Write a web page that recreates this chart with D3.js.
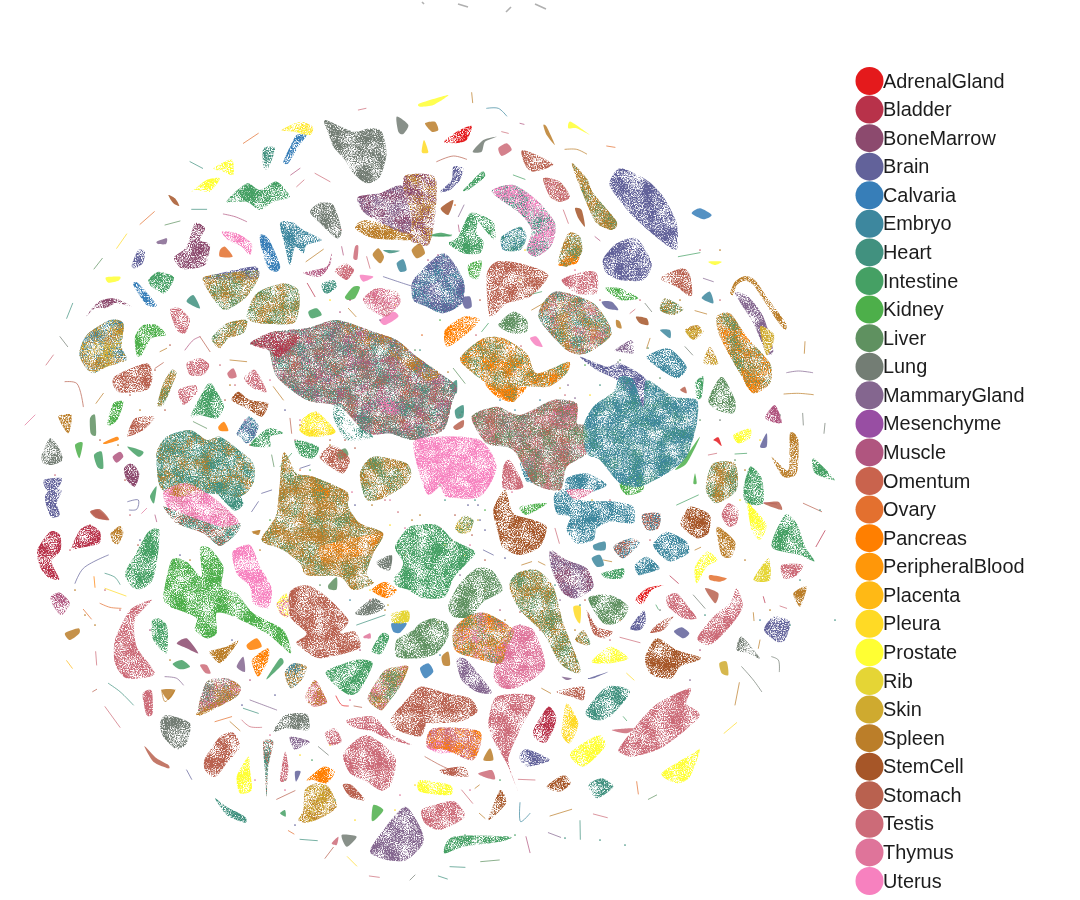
<!DOCTYPE html>
<html><head><meta charset="utf-8">
<script src="https://cdn.jsdelivr.net/npm/d3@7/dist/d3.min.js"></script>
<style>html,body{margin:0;background:#fff}svg{display:block}</style></head>
<body><svg id="c" width="1080" height="900"></svg>
<script>
const tissues=["AdrenalGland","Bladder","BoneMarrow","Brain","Calvaria","Embryo","Heart","Intestine","Kidney","Liver","Lung","MammaryGland","Mesenchyme","Muscle","Omentum","Ovary","Pancreas","PeripheralBlood","Placenta","Pleura","Prostate","Rib","Skin","Spleen","StemCell","Stomach","Testis","Thymus","Uterus"];
const palette=["#e41a1c","#b8324a","#8c4a6e","#62629a","#377eb8","#3d879e","#41917f","#45a064","#4daf4a","#5f9160","#737d74","#84668f","#984ea3","#b0557f","#c9634d","#e3702f","#ff7f00","#ff9709","#ffb915","#ffda25","#ffff33","#e5d535","#cfaa2f","#bb7e29","#a65628","#b9614f","#cc6b78","#df749a","#f781bf"];

// UMAP islands, one array per quadrant of the embedding (tissue mix, outline)
const northWest=[
["Lung",[915,90,1000,125,1050,115,1085,125,1100,190,1080,260,1040,280,1000,250,975,210,940,170,925,130]],
["Lung",[1130,80,1165,105,1150,132,1135,125]],
["Pleura|Prostate",[785,120,840,95,878,110,870,135,820,125]],
["Calvaria",[830,135,860,135,835,170,805,220,790,215,810,170]],
["Heart",[730,175,765,175,745,235,730,230]],
["Prostate",[580,235,635,208,640,255,610,245]],
["Prostate",[515,305,560,270,600,265,570,305,530,300]],
["Intestine",[620,335,680,280,720,300,770,275,810,320,760,335,720,360,680,335]],
["StemCell",[445,315,465,325,478,348,460,340]],
["Prostate",[258,562,300,560,295,572,265,578]],
["MammaryGland",[410,455,440,445,438,462,415,462]],
["BoneMarrow",[463,500,500,470,525,400,555,415,540,450,570,465,555,525,490,538,470,520]],
["Uterus",[605,425,650,430,695,460,690,495,665,470,625,450]],
["Ovary",[600,480,615,470,638,500,600,500]],
["Calvaria",[720,435,745,445,780,525,770,545,745,535,725,480]],
["Embryo",[780,400,815,395,850,420,905,450,860,465,850,490,825,470,810,525,795,470]],
["Lung",[870,365,900,338,940,345,965,420,950,445,900,400]],
["Brain",[335,525,355,480,375,485,368,520,345,535]],
["Intestine",[385,570,415,545,462,562,435,610,395,590]],
["Calvaria",[340,585,355,580,410,645,380,645]],
["Heart",[500,635,520,615,540,655]],
["BoneMarrow",[198,680,235,635,285,625,335,650,290,640,255,655,225,655]],
["Liver|Spleen",[548,565,620,550,710,540,715,565,680,620,620,660,590,640]],
["Brain",[548,565,620,545,708,530,712,565,620,570]],
["Liver|Spleen",[680,680,710,610,790,580,835,600,838,650,820,700,720,700]],
["Liver|Spleen",[575,745,620,700,680,690,670,730,625,745,600,775]],
["Testis",[450,660,480,655,510,690,495,730,470,720]],
["Embryo|Skin|Spleen",[178,790,200,735,270,690,310,700,305,770,320,810,260,830,220,850,195,830]],
["Kidney",[345,740,370,705,410,705,438,735,395,745,365,795,350,795]],
["Stomach",[278,880,290,855,380,820,398,860,380,900,300,908]],
["Liver|Spleen",[412,945,430,880,455,840,470,850,455,890,430,945]],
["Testis",[500,820,540,805,568,825,550,855,510,855]],
["Testis",[622,850,640,835,650,860,630,865]],
["Testis",[672,865,705,840,740,905,700,895]],
["Testis",[475,900,525,885,530,910,490,945]],
["Intestine",[512,978,565,880,590,905,612,950,590,985,540,975]],
["StemCell",[635,925,655,905,690,930,745,940,725,980,680,955,640,935]],
["Stomach",[322,1035,345,985,405,980,370,1020,330,1038]],
["Kidney",[262,1000,280,940,310,935,295,985,275,1005]],
["Spleen",[115,980,155,975,145,1030]],
["Liver",[210,985,225,975,228,1035,212,1030]],
["Pancreas",[250,1058,290,1040,295,1050,258,1062]],
["Lung",[65,1095,90,1045,115,1070,128,1110,95,1125,70,1120]],
["Kidney",[165,1065,188,1058,178,1105]],
["Intestine",[222,1095,245,1085,250,1135,232,1130]],
["Muscle",[278,1100,300,1085,310,1100,290,1118]],
["Intestine",[322,1070,370,1085,355,1100]],
["BoneMarrow",[312,1135,335,1120,358,1150,345,1190,320,1170]],
["Brain",[72,1170,125,1165,110,1200,80,1200]],
["Heart|Heart|Spleen",[410,1090,440,1040,510,1020,560,1050,600,1040,650,1075,700,1120,700,1180,660,1220,560,1210,470,1220,420,1190]],
["Pleura|Prostate",[838,1020,850,985,890,965,945,1020,930,1035,870,1040]],
["Embryo|Brain",[650,1030,685,980,715,1005,705,1040,680,1060,660,1040]],
["Pancreas",[595,1010,612,995,625,1022,600,1022]],
["Intestine",[690,1065,745,1015,790,1030,750,1040,750,1070]],
["Intestine",[825,1050,895,1070,880,1105,840,1095]],
["Stomach",[898,1100,935,1065,965,1080,990,1110,970,1150,930,1130]],
["Kidney",[975,620,1000,590,1020,592,1005,625,985,630]],
["Testis|Thymus",[1030,625,1070,595,1130,605,1140,640,1100,680,1070,670,1040,650]],
["Uterus",[1080,690,1120,665,1135,680,1095,705]],
["Intestine",[865,665,890,655,905,675,875,685]],
["Testis",[945,540,975,520,1002,540,980,570,950,550]],
["Muscle",[850,548,920,530,935,488,930,525,900,560]],
["BoneMarrow|MammaryGland",[1015,320,1080,310,1150,290,1170,430,1050,380,1020,350]],
["BoneMarrow|Spleen",[1150,290,1160,255,1245,262,1245,380,1225,465,1170,450,1175,380]],
["Spleen",[1005,415,1040,390,1170,430,1170,450,1060,445]],
["Heart",[905,580,940,570,950,590,925,610,910,605]],
["Spleen|Embryo",[1058,495,1075,475,1092,500,1080,520]],
["Embryo",[1130,520,1150,508,1160,540,1140,545]],
["Spleen",[1175,480,1200,460,1215,490,1190,505]],
["Heart",[1090,480,1140,482,1110,490]],
["Uterus",[1020,555,1060,560,1030,575]],
["Testis",[1005,470,1015,468,1012,508,1000,505]],
["Liver",[950,1090,975,1075,985,1095,960,1110]]
];
const northEast=[
["Prostate",[0,40,85,15,40,45,0,50]],
["Spleen",[15,100,45,95,55,120,35,125]],
["AdrenalGland",[72,155,110,125,155,108,140,150,105,160]],
["Pleura",[5,185,12,150,25,185,15,190]],
["Prostate",[445,115,452,95,510,135,470,115]],
["Lung",[158,185,190,150,230,140,195,155,185,185]],
["Spleen",[370,105,380,110,405,165,380,135]],
["Brain",[568,280,600,235,680,270,730,320,770,400,770,480,720,450,640,380,590,320]],
["Brain",[548,510,590,460,650,445,695,520,670,570,600,570,560,550]],
["Calvaria",[815,370,840,355,875,375,850,388]],
["Stomach",[308,180,400,222,340,245,315,225]],
["Stomach|Testis",[370,265,420,275,450,320,420,335,390,320]],
["Testis",[235,175,260,160,275,180,245,198]],
["Spleen|Liver|Spleen",[455,220,500,265,520,310,590,395,575,420,530,400,500,340]],
["Heart|Uterus|Uterus",[215,305,280,285,350,330,405,400,395,465,350,500,320,480,335,420,300,370]],
["Heart|Embryo",[245,440,300,410,320,440,300,480,250,480]],
["Intestine",[85,460,115,440,150,370,195,380,222,400,225,450,195,420,175,395,170,430,190,455,180,490,130,490]],
["Kidney",[145,525,185,512,175,565,150,560]],
["Stomach",[200,555,230,515,300,520,385,555,330,620,260,640,210,680]],
["Brain",[100,230,130,235,120,270,90,300,60,305,95,270]],
["StemCell",[62,355,100,330,85,375]],
["Testis",[425,570,490,545,530,550,530,610,470,610]],
["Kidney",[555,595,600,595,655,625,600,630]],
["Stomach",[720,565,785,535,810,555,815,620,770,590]],
["Brain|Embryo|Brain",[-20,570,70,490,130,570,125,640,70,670,20,650,-20,630]],
["Brain",[125,625,150,620,155,650,135,655]],
["Pancreas",[75,720,130,680,180,690,130,740,80,770]],
["Liver",[235,705,280,665,320,690,320,725,275,730]],
["Uterus",[330,745,350,740,368,770,345,765]],
["Heart|Spleen|Testis",[355,680,405,605,520,640,575,730,500,790,440,780]],
["Spleen|Liver|Pancreas",[120,805,190,745,250,745,320,790,350,850,445,815,440,850,385,890,300,890,280,935,200,880,160,850]],
["Pancreas",[195,880,260,900,320,890,280,935,230,920]],
["Liver|Spleen",[720,660,735,625,790,655,760,675]],
["Embryo",[845,625,870,605,880,640]],
["Embryo",[720,720,750,720,750,745]],
["MammaryGland",[585,780,635,750,640,790,600,785]],
["Embryo",[680,800,745,775,800,830,770,865,710,830]],
["Spleen|Liver|Pancreas",[890,680,930,670,980,740,1050,820,1050,880,1000,910,960,850,900,740]],
["Pancreas",[965,830,1020,880,1000,910,975,880]],
["Liver",[865,930,905,860,945,930,940,970,890,960]],
["Muscle",[1035,985,1065,945,1085,1000]],
["MammaryGland",[945,610,985,620,1030,680,1060,780,1040,790,1000,700]],
["Skin",[1020,710,1060,730,1060,760,1040,795]],
["Spleen",[930,610,945,575,975,558,1005,570,1040,620,1098,700,1095,720,1070,690,1030,630,1000,585,975,572,950,585,940,615]],
["Prostate",[940,1035,990,1015,990,1045,955,1060]],
["Brain",[1020,1070,1040,1030,1040,1070]],
["Spleen",[1055,1100,1105,1140,1110,1030,1135,1050,1130,1150,1090,1160]],
["Intestine",[1180,1105,1245,1170,1185,1150]],
["Liver|Spleen",[860,1170,880,1120,945,1120,950,1200,890,1240,860,1210]],
["Intestine",[970,1200,990,1130,1025,1165,1030,1240,980,1240]],
["Prostate",[865,515,905,515,885,525]],
["Intestine",[130,300,185,245,195,260,165,285,145,300]],
["Intestine",[30,435,65,428,95,438,55,440]],
["StemCell",[465,355,485,360,495,410,475,385]],
["Spleen|Liver",[415,510,445,430,480,440,485,490,440,530]],
["Pancreas",[415,525,470,470,485,470,470,520]],
["Brain",[545,635,575,635,595,660,560,655]],
["StemCell",[648,680,680,685,685,705,660,700]],
["Spleen",[588,690,600,695,605,715,590,710]],
["Intestine",[825,880,850,860,845,920,830,925]],
["Spleen|Skin",[795,720,830,705,850,725,820,750]],
["Skin|Spleen",[850,815,870,770,895,820,870,825]],
["Stomach",[780,900,795,890,800,910]],
["Kidney",[825,1150,830,1180,820,1180]],
["AdrenalGland",[880,1050,895,1042,905,1068,890,1055]],
["Lung|Stomach|Testis|Liver",[155,980,230,950,300,975,400,930,470,940,470,1000,500,1010,500,1090,440,1130,420,1200,340,1180,280,1080,200,1060]],
["Uterus",[400,960,465,940,470,990,420,985]],
["Testis",[250,1130,270,1110,310,1190,250,1195]],
["Embryo|Heart|Embryo",[490,1010,520,950,580,905,600,860,640,870,670,950,680,870,760,920,830,930,830,1000,800,1100,740,1150,660,1190,600,1180,540,1110,500,1090]],
["Brain",[480,800,560,830,600,820,680,870,670,950,640,930,590,870,530,840]],
["Kidney",[600,1180,660,1150,670,1200,620,1215]],
["Kidney",[790,1110,840,1040,800,1120,765,1140]],
["Embryo",[440,1165,500,1150,560,1185,500,1210,440,1210]],
["Embryo",[300,1120,330,1110,350,1170,320,1175]],
["Heart",[105,960,130,945,130,980,110,985]],
["Stomach",[100,1010,130,990,130,1010,110,1020]],
["Heart",[90,890,110,870,110,910]]
];
const southWest=[
["Brain",[75,20,90,0,125,0,110,40,120,75,95,82,80,50]],
["Testis",[212,65,235,60,265,88,235,85]],
["Spleen",[272,130,300,108,310,130,295,162,278,155]],
["Bladder",[52,180,90,125,120,135,122,180,95,215,118,268,85,262,60,230]],
["Bladder",[155,175,180,120,210,105,240,125,238,160,190,172]],
["Intestine",[315,250,350,185,385,125,418,120,412,210,395,275,360,298,335,290]],
["Kidney",[430,320,455,210,500,215,545,260,540,175,570,175,610,230,605,290,650,310,700,370,790,420,812,490,740,430,640,380,590,370,590,430,560,445,525,420,530,385,490,365,450,350]],
["Uterus",[638,185,690,165,720,230,755,295,745,355,700,340,690,290,650,250]],
["Stomach",[810,305,860,285,920,320,985,390,960,430,1005,425,1018,475,900,505,840,470,830,455,860,430,810,380]],
["Prostate|Thymus",[770,340,800,310,805,380,780,370]],
["Spleen|Liver|Spleen",[725,150,770,70,790,-110,830,-50,880,-40,980,5,985,50,1020,100,1090,130,1060,190,1040,250,1060,280,1000,300,960,260,860,255,840,220,790,180]],
["Spleen|Pancreas",[900,170,1020,140,1090,130,1040,190,920,220]],
["Pancreas",[870,-20,930,0,900,60]],
["Intestine",[918,545,1005,510,1058,520,1020,600,990,615,950,590]],
["Spleen|Liver|Thymus",[1043,625,1090,545,1130,530,1165,530,1140,590,1095,650,1080,660]],
["Lung",[1070,215,1115,195,1110,240,1085,235]],
["Intestine",[1120,270,1140,245,1175,260,1165,295,1135,290]],
["Pancreas",[1055,300,1095,275,1130,300,1100,325]],
["Lung",[1005,370,1060,325,1095,350,1050,375]],
["Rib",[1115,370,1165,362,1165,395,1120,400]],
["Calvaria",[1115,400,1160,400,1140,428,1120,425]],
["Intestine",[1055,480,1085,430,1108,440,1085,490,1065,490]],
["Testis",[285,450,330,360,395,330,345,390,350,470,405,552,320,565,285,520]],
["Intestine",[395,395,415,385,442,410,440,490,400,450]],
["Muscle",[92,320,120,308,150,340,125,375,100,350]],
["Stomach",[555,805,600,740,640,728,660,770,620,820,585,862,555,840]],
["Lung",[420,700,440,675,510,700,500,760,470,778,430,740]],
["Lung",[760,725,795,675,860,672,865,720,800,715]],
["Testis",[368,612,395,602,398,670,380,675]],
["Lung|Spleen|Thymus",[535,665,560,575,620,565,662,590,650,620,590,650]],
["Spleen",[535,665,650,600,650,620,545,675]],
["Spleen",[568,485,620,470,655,452,630,490,600,520]],
["Intestine",[458,522,485,510,510,530,480,538]],
["Testis",[540,525,560,525,572,550,555,548]],
["Pancreas",[710,495,745,475,745,510,715,560,695,515]],
["Pancreas",[680,465,710,445,725,470,690,480]],
["Spleen|Embryo",[795,545,820,520,860,530,845,570,815,595,800,575]],
["Intestine",[740,565,780,505,790,520,750,560]],
["Thymus|Spleen",[855,620,885,570,915,620,920,640,880,650]],
["MammaryGland",[650,530,670,500,675,545]],
["Testis",[980,690,1060,680,1110,730,1175,765,1100,745,1060,725,1000,712]],
["Testis",[970,790,1040,735,1125,800,1115,880,1085,902,1040,875,990,850]],
["Testis",[915,730,945,715,965,755,930,765]],
["Spleen|Skin",[835,990,850,960,855,900,890,880,925,890,950,950,900,985,860,998]],
["Pancreas",[860,870,910,830,945,845,920,880,880,870]],
["Prostate",[650,860,685,800,690,840,695,900,660,910]],
["Stomach|Heart",[730,755,760,755,745,830,740,920,735,840]],
["Testis",[780,870,795,785,805,830,800,870]],
["MammaryGland",[810,740,870,755,830,778,820,775]],
["Brain",[825,845,842,845,828,875]],
["Stomach",[968,885,995,885,1035,930,990,920]],
["Heart",[585,925,620,950,675,980,675,998,620,975]],
["MammaryGland",[1050,1085,1090,1020,1155,950,1200,1010,1210,1060,1160,1110,1100,1110]],
["Stomach",[373,768,410,805,445,825,445,835,400,815]],
["BoneMarrow",[470,460,500,445,535,490,500,475]],
["Testis",[935,1060,955,1040,950,1065]],
["Lung",[965,1035,1010,1040,980,1070]],
["Kidney",[1055,990,1060,945,1090,960,1065,990]],
["Intestine",[780,970,795,960,797,980]],
["Liver",[925,285,950,262,950,298,928,298]],
["Intestine",[400,0,410,-10,402,40,390,20]],
["Spleen",[135,430,175,415,178,430,150,450]],
["Stomach|BoneMarrow",[210,65,240,58,268,90,230,85]],
["Spleen",[425,600,465,600,445,630]],
["Spleen",[695,125,720,120,715,135]],
["Thymus",[1030,440,1050,430,1052,445,1035,445]],
["Uterus|Thymus",[430,5,500,-20,590,30,660,100,600,110,520,90,450,60]],
["Heart|Stomach",[430,50,460,60,600,110,660,100,650,130,600,168,550,130,470,100]],
["Heart",[570,-20,640,-10,670,40,640,60]]
];
const southEast=[
["Intestine",[-75,170,-30,110,50,105,100,150,165,185,140,220,100,265,75,320,10,325,-35,300,-75,280,-50,220]],
["Liver",[85,345,120,280,170,235,215,240,248,300,190,335,150,380,100,380]],
["Liver",[0,400,40,385,80,400,85,440,50,490,0,505,-70,500,-70,450,-20,420]],
["Spleen|Thymus|Pancreas|Liver",[100,420,150,375,200,370,280,420,260,470,240,520,150,500,105,480]],
["Thymus",[240,480,280,410,340,420,375,530,300,590,250,595,220,560]],
["MammaryGland",[110,510,140,510,215,605,170,605,125,570]],
["Liver|Spleen",[268,290,290,250,350,240,400,290,430,400,480,530,470,550,420,520,370,430,300,360]],
["MammaryGland|BoneMarrow",[390,180,440,210,500,235,520,290,470,325,430,310,395,240]],
["StemCell",[220,60,255,0,280,70,340,90,380,110,360,170,300,195,250,175,235,130]],
["Embryo",[405,10,480,-10,480,30,590,35,640,50,640,100,570,95,530,115,520,150,470,160,440,120,450,80,410,70]],
["Embryo",[700,160,740,125,800,155,805,190,750,215,715,190]],
["Embryo",[645,225,680,200,720,235,680,250,655,255]],
["Embryo|Stomach",[580,170,630,145,660,160,610,205]],
["Embryo",[515,205,540,195,552,225,530,230]],
["Embryo",[520,165,555,155,555,180,525,180]],
["Stomach|Embryo",[665,75,720,70,715,115,680,120]],
["StemCell",[782,95,810,50,870,75,865,130,830,145,790,115]],
["Testis",[905,75,925,40,955,60,950,100,925,110]],
["Prostate",[982,40,1005,60,1040,105,1020,150,995,120]],
["Spleen",[890,110,945,155,935,200,905,195]],
["Prostate",[825,230,860,185,892,210,860,230,830,280]],
["Intestine",[1055,170,1095,75,1130,100,1155,170,1185,215,1140,195]],
["Rib",[1000,270,1045,205,1050,270]],
["Testis",[1085,225,1150,225,1125,260,1090,265]],
["Ovary",[870,255,920,265,900,275,870,270]],
["Stomach",[855,295,895,310,885,340]],
["Spleen",[1120,310,1160,290,1140,350]],
["AdrenalGland",[648,325,680,295,730,285,695,300,670,340,650,340]],
["Intestine",[545,250,610,235,605,265,560,265]],
["Testis",[740,320,770,310,805,350,830,385,790,385,745,350]],
["Testis",[832,445,880,380,930,340,950,295,968,350,930,410,870,465]],
["Brain",[630,415,670,362,678,395,660,420]],
["Stomach",[690,428,720,395,760,380,730,420]],
["Brain",[762,425,785,412,808,430,790,445]],
["Liver",[505,325,570,315,625,350,600,395,550,400]],
["Stomach",[500,360,530,410,578,425,555,445,520,430]],
["Liver|Spleen",[465,450,490,420,512,460,495,465]],
["Pleura",[460,350,482,350,480,400,465,380]],
["Prostate",[515,515,570,470,625,505,570,520]],
["StemCell",[675,505,710,445,770,480,845,505,780,530,755,565,695,555]],
["Brain",[1032,420,1060,380,1110,395,1095,450,1070,455]],
["Lung",[950,480,965,440,1020,505,985,490]],
["Heart",[497,665,560,590,630,605,570,680,525,690]],
["Testis",[600,770,700,650,810,595,800,640,838,680,730,770,640,800,605,790]],
["Testis",[575,720,640,715,620,730]],
["Testis",[205,700,230,620,345,620,300,720,265,810,295,905,260,820,220,750]],
["Bladder",[340,720,385,650,410,690,380,755,350,750]],
["Pleura",[425,730,440,640,475,700,450,760]],
["Brain",[298,800,320,778,390,810,320,830]],
["Prostate",[450,790,535,735,555,770,490,830]],
["Prostate",[725,850,820,790,840,780,810,860,770,880]],
["StemCell",[380,890,430,855,452,880,420,905]],
["Heart",[505,885,545,865,580,890,530,925]],
["Stomach",[-90,690,-50,640,0,590,80,610,150,625,172,665,120,695,40,700,20,700,0,740,-70,720]],
["Testis|Pancreas|Testis",[40,715,180,725,160,810,80,780,20,770]],
["Uterus",[20,770,50,750,120,780,60,790]],
["Testis",[5,960,60,940,105,935,135,980,60,1020,15,1000]],
["Prostate",[0,870,90,885,90,915,0,905]],
["Intestine",[72,1090,100,1040,270,1040,240,1055,130,1070]],
["StemCell",[205,990,240,900,258,940]],
["Stomach",[410,605,490,590,490,630,455,620]],
["Brain",[505,565,565,545,520,565]],
["MammaryGland",[425,560,455,565,440,570]],
["Kidney",[300,50,380,40,320,75]],
["Stomach",[60,840,130,830,145,860,80,855]],
["Testis",[175,850,215,840,225,868,190,860]],
["Skin|Liver",[105,110,130,78,160,90,150,125,120,130]],
["Spleen",[65,500,85,485,90,525,70,525]],
["Calvaria",[0,535,25,520,40,545,15,565]],
["Spleen|Heart",[190,810,210,775,220,810]],
["Stomach",[1085,60,1030,40,1075,35]],
["Skin",[898,520,920,515,925,555,905,550]],
["Thymus",[440,0,520,0,470,30]]
];
// long thin filaments (tissue, path) in the same four quadrants
const threadsNW=[["Ovary",[670,160,715,130]],["Ovary",[360,403,403,365]],["Liver",[435,405,480,393]],["Heart",[515,358,560,358]],["Muscle",[610,372,645,380,680,395]],["Pleura",[290,475,320,432]],["Liver",[222,537,247,505]],["Heart",[140,685,158,640]],["Thymus",[15,1005,45,975]],["Testis",[78,825,100,795]],["Lung",[120,740,143,770]],["Heart",[510,215,548,235]],["Muscle",[812,255,840,235]],["Testis",[885,250,930,275]],["Stomach",[135,875,170,880,190,950]],["Spleen",[228,940,250,910]],["Testis",[830,290,852,270]],["Spleen",[858,515,910,478]],["Bladder",[862,580,885,620]],["Testis",[1038,55,1015,60]],["Testis",[950,410,965,420]],["Spleen",[420,785,440,775]],["Spleen",[630,810,680,815]],["Stomach",[405,835,430,818]],["Spleen",[985,655,1008,680]],["Brain",[1090,560,1165,585,1200,595]],["Muscle",[965,470,970,495]],["Testis",[1040,500,1050,535]],["Liver",[755,1095,762,1130]],["Muscle",[495,780,520,750,540,740]],["Stomach",[540,740,570,785]],["Stomach",[810,985,815,1030]],["Liver",[520,995,560,1015]],["Brain",[840,1135,870,1125]],["Intestine",[780,1130,815,1090]],["Stomach",[1165,860,1180,830]],["Spleen",[760,890,790,930]]];
const threadsNE=[["Spleen",[155,8,158,38]],["Embryo",[200,55,235,55,260,78]],["Stomach",[50,215,100,198,140,208]],["Spleen",[435,178,470,178,500,192]],["Ovary",[560,168,585,172]],["Intestine",[280,255,315,268]],["Testis",[430,360,445,400]],["MammaryGland",[115,380,132,345]],["Muscle",[115,405,118,425]],["Intestine",[28,438,95,435]],["Intestine",[325,615,365,605]],["Spleen",[335,660,370,640]],["Intestine",[775,500,840,488]],["MammaryGland",[850,565,880,575]],["Spleen",[825,662,860,672]],["Spleen",[1155,755,1153,790]],["MammaryGland",[1100,848,1135,843,1178,848]],["Spleen",[1092,912,1135,910,1180,914]],["Lung",[1148,970,1150,1005]],["Lung",[1215,1000,1212,1030]],["Intestine",[185,725,205,700]],["Liver",[100,835,135,880]],["Lung",[795,770,818,795]],["Spleen",[690,745,680,775]],["Muscle",[525,440,540,452]],["Testis",[630,670,645,658]],["Testis",[865,1095,890,1090]],["Lung",[675,640,695,665]],["Intestine",[945,1092,980,1090]],["Muscle",[300,100,312,103]],["Testis",[245,125,265,130]]];
const threadsSW=[["Brain",[165,280,190,235,265,195]],["Heart",[255,250,285,262,300,283]],["Pleura",[255,295,318,318]],["Ovary",[240,340,270,352,303,355]],["Ovary",[190,358,214,387]],["Pancreas",[222,260,225,292]],["Placenta",[140,512,157,535]],["Testis",[227,485,230,525]],["Testis",[255,650,300,712]],["Stomach",[218,605,230,598]],["Heart",[265,580,300,605,340,645]],["Brain",[500,840,515,868]],["Stomach",[770,928,825,902]],["Ovary",[805,1022,822,1032]],["Stomach",[915,1105,940,1072]],["Heart",[840,1048,892,1052]],["Pleura",[982,1100,1010,1128]],["Testis",[1048,1158,1078,1162]],["Lung",[895,770,925,795]],["MammaryGland",[690,630,730,645,770,660]],["Heart",[670,655,715,670]],["Spleen",[630,695,660,722]],["Testis",[665,690,690,710,725,712]],["MammaryGland",[435,560,470,565,490,585]],["Ovary",[585,695,635,680]],["Heart",[1010,405,1095,375]],["Spleen",[425,600,435,635,465,600]],["Spleen",[700,130,720,122]],["Brain",[695,65,715,35]],["Brain",[725,10,755,0]],["Thymus",[365,70,380,55]],["Brain",[323,35,355,30,350,58,328,60]],["Muscle",[405,75,410,95]],["Lung",[1170,1170,1185,1155]],["AdrenalGland",[948,618,965,645,985,648]],["Stomach",[1002,648,1025,652]]];
const threadsSE=[["Testis",[125,900,158,940]],["Spleen",[178,970,195,985]],["Spleen",[390,978,455,958]],["Embryo",[300,938,302,995,330,970]],["Testis",[520,972,562,983]],["Heart",[480,992,481,1048]],["MammaryGland",[385,1028,422,1042]],["Muscle",[318,1040,330,1088]],["Liver",[182,1115,238,1110]],["Heart",[90,1130,135,1132]],["Heart",[55,1158,82,1167]],["Ovary",[650,875,655,912]],["Liver",[685,928,710,915]],["Spleen",[945,645,958,578]],["Pleura",[912,730,950,698]],["Bladder",[1188,170,1215,122]],["Stomach",[1150,40,1205,65]],["Muscle",[1032,38,1070,42]],["Lung",[965,530,1000,570,1025,605]],["Lung",[1055,500,1075,510,1078,545]],["Spleen",[1020,450,1015,475]],["Testis",[1080,348,1100,355]],["Spleen",[1000,368,1002,392]],["Bladder",[1030,320,1035,338]],["Lung",[820,315,855,355]],["Testis",[600,442,660,458]],["Intestine",[708,345,715,358]],["Spleen",[825,180,842,172]],["Pleura",[620,550,642,570]],["Stomach",[15,800,70,830,140,858]],["Spleen",[365,595,392,610]],["Intestine",[770,45,835,15]],["Testis",[295,868,345,870]],["Bladder",[750,258,775,280]],["Spleen",[550,210,575,215]],["Spleen",[305,225,335,215]],["Brain",[190,180,220,195]],["Testis",[405,115,418,160]],["Spleen",[355,215,375,225]],["Spleen",[165,895,178,885]],["Intestine",[610,680,620,692]]];
const topLung=[[422,2,424,4],[458,4,468,7],[506,12,511,7],[535,4,546,9]];
// loose cells between the islands
const looseCells=[["Testis",[476,335,521,346,500,352,515,372,490,365,565,395,535,470,560,475,598,520,575,525,610,500,440,528,452,540,385,500,398,512,345,470,362,478]],["Stomach",[300,425,345,440,345,360,470,360,480,300,330,440,390,487,355,448,455,515,472,535,485,560,520,612,540,622,585,600]],["Spleen",[370,345,400,462,388,428,372,505,360,420,437,392,448,372,480,430,485,590,430,525,412,520,420,515,330,445,305,395]],["Heart",[420,350,425,365,600,385,475,500,462,412,430,300,445,500,380,420,495,575,518,600,555,585,580,605]],["Brain",[345,520,355,505,468,505,500,360,450,385,480,520,355,395,478,505,505,558,485,530,392,590,455,610]],["Skin",[550,370,560,388,570,420,592,500,505,470,520,540,415,430,478,520,438,622,388,605,460,630]],["Thymus",[575,270,610,260,352,492,390,500,405,528,468,525,470,545,300,420,295,440,512,492,525,510]],["Kidney",[440,485,612,420,310,470,270,520,288,600,440,320,485,510,470,360,585,365,402,390]],["Testis",[600,300,640,300,630,250,670,230,700,250,720,300,610,640,650,540,370,600,590,620,470,620,455,635,430,625,540,630,560,655]],["Spleen",[630,280,680,300,720,250,745,470,745,560,770,610,260,550,230,600,385,610,395,590,505,620,575,630]],["Pleura",[370,590,390,525,520,280,525,250,445,545,465,555,395,305,590,395,400,405]],["Liver",[648,348,660,378,620,360,700,420,735,460,780,545,300,610,320,585,480,350,615,405,415,350]],["Ovary",[322,340,342,500,300,470,448,410,450,395,620,620,455,205,405,555,422,335,445,310,455,330]],["Muscle",[360,650,410,640,485,655,500,610,520,625,700,650,720,630,150,630,250,680,340,312,350,300,428,260,438,255]],["Lung",[590,340,618,362,720,420,615,438,660,610,530,680,780,415,505,390,510,430,460,415]],["Embryo",[500,400,515,410,712,470,735,490,620,600,350,600,760,620,440,655,550,410,540,400,590,590]],["MammaryGland",[460,575,475,480,560,600,690,680,325,500,205,710,380,320,488,370,568,385,575,398]],["Stomach",[100,440,125,480,165,410,130,395,90,525,138,545,250,445,155,370,170,345,225,400]],["Testis",[60,605,105,590,120,610,130,515,55,475,70,550,210,570,190,495,220,365,235,385,205,415]],["Spleen",[55,540,75,590,95,625,85,615,125,645,170,660,190,560,195,490,140,410,118,445,230,385]],["Brain",[180,555,195,578,140,540,232,640,235,695,242,705,275,695,295,825,330,810,255,385,285,410]],["Thymus",[260,620,270,735,255,780,285,790,350,700,380,730,400,795,470,790,245,420,270,380]],["Intestine",[285,780,312,760,335,800,370,780,465,835,500,780,450,700,515,835,370,420,345,395]],["Heart",[600,840,565,838,625,845,705,615,790,625,820,510,835,620,800,580,360,430,345,410]],["Pleura",[300,755,330,745,355,820,395,810,415,785,740,500,760,440,330,300,355,345]]];

const color=d3.scaleOrdinal(tissues,palette);
const svg=d3.select("#c");
const defs=svg.append("defs");
function speckle(id,seed,gain,bias){
  const f=defs.append("filter").attr("id",id).attr("filterUnits","userSpaceOnUse")
   .attr("x",0).attr("y",0).attr("width",1080).attr("height",900).attr("color-interpolation-filters","sRGB");
  f.append("feTurbulence").attr("type","fractalNoise").attr("baseFrequency",0.85).attr("numOctaves",2).attr("seed",seed).attr("result","fine");
  f.append("feTurbulence").attr("type","fractalNoise").attr("baseFrequency",0.07).attr("numOctaves",2).attr("seed",seed+40).attr("result","coarse");
  f.append("feComposite").attr("in","fine").attr("in2","coarse").attr("operator","arithmetic").attr("k1",0).attr("k2",0.65).attr("k3",0.35).attr("k4",0).attr("result","noise");
  f.append("feColorMatrix").attr("in","noise").attr("type","matrix").attr("values",`0 0 0 0 0 0 0 0 0 0 0 0 0 0 0 0 0 0 ${gain} ${bias}`).attr("result","mask");
  f.append("feComposite").attr("in","SourceGraphic").attr("in2","mask").attr("operator","in").attr("result","dots");
  f.append("feGaussianBlur").attr("in","dots").attr("stdDeviation",0.45);
}
speckle("solo",3,5.5,-2.05);
const mixBias=[-2.3,-2.55,-2.7,-2.8];
[0,1,2,3].forEach(i=>speckle("mix"+i,11+i*7,5.5,mixBias[i]));
const soft=defs.append("filter").attr("id","soft");
soft.append("feGaussianBlur").attr("stdDeviation",0.4);
const softText=defs.append("filter").attr("id","softText");
softText.append("feGaussianBlur").attr("stdDeviation",0.35);

function quadrant(ox,oy){return {x:d3.scaleLinear([0,1200],[ox,ox+400]),y:d3.scaleLinear([0,1200],[oy,oy+400])};}
const quadrants=[
 {c:northWest,t:threadsNW,s:quadrant(20,90)},
 {c:northEast,t:threadsNE,s:quadrant(420,90)},
 {c:southWest,t:threadsSW,s:quadrant(20,490)},
 {c:southEast,t:threadsSE,s:quadrant(420,490)}];
const pairs=f=>d3.pairs(f).filter((_,i)=>i%2===0);
const shapes=[],threads=[];
quadrants.forEach(q=>{
  q.c.forEach(([mix,f])=>{
    const pts=pairs(f).map(([a,b])=>[q.s.x(a),q.s.y(b)]);
    shapes.push({parts:mix.split("|"),pts,area:Math.abs(d3.polygonArea(pts))});
  });
  q.t.forEach(([name,f])=>threads.push({name,pts:pairs(f).map(([a,b])=>[q.s.x(a),q.s.y(b)])}));
});
const outline=d3.line().curve(d3.curveCardinalClosed.tension(0.25));
const open=d3.line().curve(d3.curveCatmullRom.alpha(0.5));

const g0=svg.append("g").attr("filter","url(#soft)");
g0.selectAll("path.t").data(threads).join("path").attr("d",d=>open(d.pts))
  .attr("fill","none").attr("stroke",d=>color(d.name)).attr("stroke-width",0.95).attr("stroke-linecap","round").attr("opacity",0.75);
g0.selectAll("path.s").data(shapes.filter(d=>d.area<110)).join("path").attr("d",d=>outline(d.pts))
  .attr("fill",d=>color(d.parts[0])).attr("opacity",0.85);
const cx=d3.scaleLinear([0,1080],[0,1080]),cy=d3.scaleLinear([0,900],[0,900]);
looseCells.forEach(([name,f])=>g0.append("g").selectAll("circle").data(pairs(f)).join("circle")
  .attr("cx",d=>cx(d[0])).attr("cy",d=>cy(d[1])).attr("r",0.85).attr("fill",color(name)));
g0.append("g").selectAll("path").data(topLung).join("path")
  .attr("d",d=>open([[cx(d[0]),cy(d[1])],[cx(d[2]),cy(d[3])]])).attr("stroke","#b0b0b0").attr("stroke-width",1.6).attr("fill","none");

const big=shapes.filter(d=>d.area>=110);
svg.append("g").attr("filter","url(#solo)").selectAll("path")
  .data(big.filter(d=>d.parts.length===1)).join("path").attr("d",d=>outline(d.pts)).attr("fill",d=>color(d.parts[0]));
[0,1,2,3].forEach(i=>{
  svg.append("g").attr("filter",`url(#mix${i})`).selectAll("path")
    .data(big.filter(d=>d.parts.length>1&&d.parts[i])).join("path").attr("d",d=>outline(d.pts)).attr("fill",d=>color(d.parts[i]));
});

// central continent, read in the crop around it
const continentX=d3.scaleLinear([0,900],[240,540]),continentY=d3.scaleLinear([0,660],[300,520]);
const mainland=[30,130,100,95,200,85,290,60,400,95,470,120,530,170,600,220,650,260,635,310,610,390,520,420,450,400,380,400,300,320,200,300,110,230,85,150];
const uterine=[520,430,600,410,720,420,770,500,720,590,620,590,600,560,560,580];
const continent=[
 ["Heart",0,mainland],
 ["Stomach",1,mainland],
 ["Muscle",2,mainland],
 ["Lung",3,mainland],
 ["Bladder",0,[30,130,100,95,180,110,120,170,85,150]],
 ["Spleen",1,[290,60,400,95,470,120,530,170,600,220,560,240,460,170,340,120]],
 ["Uterus",1,[400,300,450,290,480,340,440,340]],
 ["Heart",2,[290,310,340,370,400,410,320,420,280,350]],
 ["Uterus",0,uterine],
 ["Uterus",1,uterine],
 ["Uterus",2,[560,470,680,470,700,560,620,570]],
 ["Spleen",0,[360,520,400,470,500,490,510,540,440,590,380,600]],
 ["Liver",1,[360,520,400,470,500,490,510,540,440,590,380,600]]
];
continent.forEach(([name,layer,f])=>{
  svg.append("path").datum(pairs(f).map(([a,b])=>[continentX(a),continentY(b)]))
    .attr("d",outline).attr("fill",color(name)).attr("filter",`url(#mix${layer})`);
});

// legend
const legendY=d3.scalePoint(tissues,[81,881]);
const legend=svg.append("g").selectAll("g").data(tissues).join("g").attr("transform",d=>`translate(869.5,${legendY(d)})`);
legend.append("circle").attr("r",14).attr("fill",d=>color(d));
legend.append("text").text(d=>d).attr("x",13.5).attr("y",6.6).attr("filter","url(#softText)")
  .attr("font-family","'Liberation Sans',Arial,sans-serif").attr("font-size",19.9).attr("fill","#1c1c1c");
</script></body></html>
